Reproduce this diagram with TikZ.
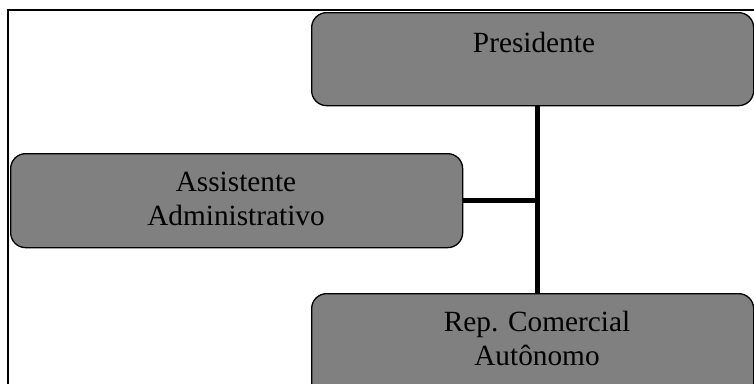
\documentclass[tikz,border=0pt]{standalone}
\usepackage{fontspec}
\setmainfont{Liberation Serif}
\definecolor{boxgray}{RGB}{128,128,128}
\begin{document}
\begin{tikzpicture}[x=1pt,y=-1pt,
  unit/.style={draw=black, line width=1.3pt, fill=boxgray,
    rounded corners=15pt, inner sep=0pt, anchor=north west},
  caption/.style={inner sep=0pt, anchor=north, align=center,
    font=\fontsize{29.3}{34}\selectfont},
  link/.style={line width=5pt}]
\useasboundingbox (0,0) rectangle (754,383);
% outer frame (runs past the page on the right and bottom)
\draw[line width=1.6pt] (8,10) rectangle (800,430);
% organisation units
\node[unit, minimum width=442pt, minimum height=93pt] (pres) at (311,12) {};
\node[unit, minimum width=452pt, minimum height=94pt] (asst) at (10,153) {};
\node[unit, minimum width=442pt, minimum height=110pt] (rep) at (311,293) {};
% unit titles
\node[caption] (presT) at (534,32) {Presidente};
\node[caption] (asstT) at (236,172) {Assistente\\Administrativo};
\node[caption] (repT) at (537,311) {Rep. Comercial\\Autônomo};
% reporting lines
\coordinate (spine) at (537,200);
\draw[link] (pres.south -| spine) -- (rep.north -| spine);
\draw[link] (asst.east) -- (asst.east -| spine);
\end{tikzpicture}
\end{document}
